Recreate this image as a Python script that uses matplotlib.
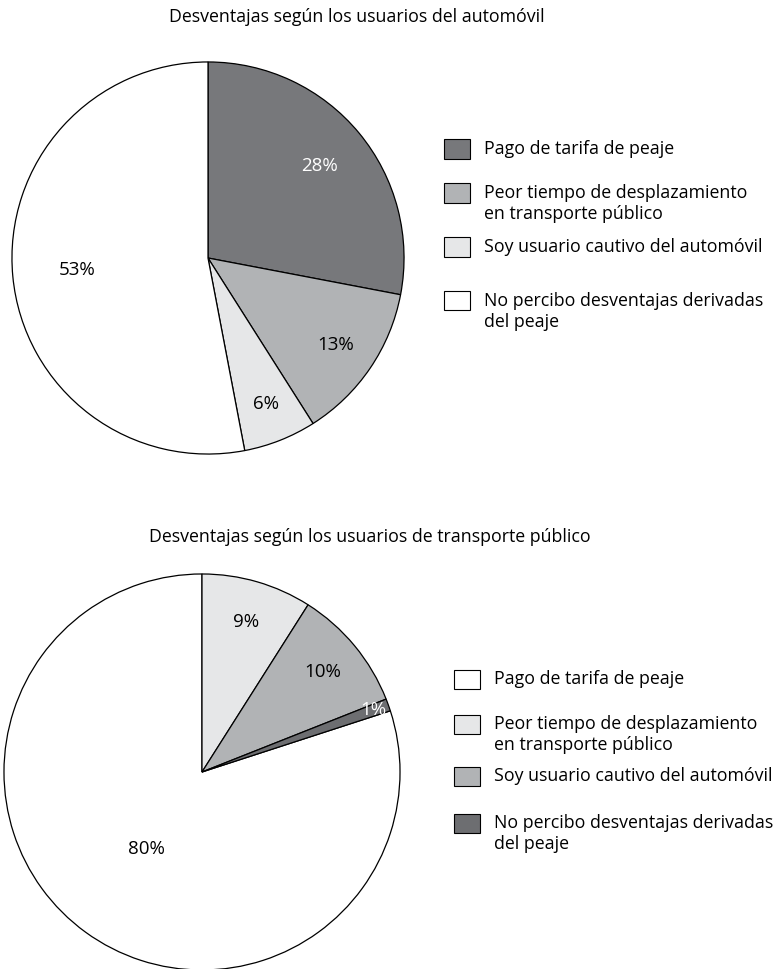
import matplotlib
matplotlib.use("Agg")
import matplotlib.pyplot as plt
from matplotlib.patches import Rectangle
import numpy as np

plt.rcParams['font.family'] = ['Open Sans', 'DejaVu Sans']

categorias = ["Pago de tarifa de peaje",
              "Peor tiempo de desplazamiento\nen transporte público",
              "Soy usuario cautivo del automóvil",
              "No percibo desventajas derivadas\ndel peaje"]

# usuarios del automovil
auto_valores = [28, 13, 6, 53]
auto_colores = ["#77787b", "#b1b3b5", "#e6e7e8", "#ffffff"]
auto_txt = ["white", "black", "black", "black"]
auto_rad = [0.74, 0.79, 0.80, 0.67]

# usuarios de transporte publico
tp_valores = [80, 9, 10, 1]
tp_colores = ["#ffffff", "#e6e7e8", "#b1b3b5", "#6d6e71"]
tp_txt = ["black", "black", "black", "white"]
tp_rad = [0.48, 0.79, 0.79, 0.92]

W, H = 782, 969
fig = plt.figure(figsize=(W / 100, H / 100), dpi=100)


def leyenda(lx, ys, colores):
    # cajas de 26x19 px, texto alineado con la primera linea
    for y, c, lab in zip(ys, colores, categorias):
        fig.add_artist(Rectangle((lx / W, 1 - (y + 9.5) / H), 26 / W, 19 / H,
                                 facecolor=c, edgecolor="black", linewidth=0.8,
                                 transform=fig.transFigure))
        for i, linea in enumerate(lab.split("\n")):
            fig.text((lx + 40) / W, 1 - (y + 21 * i) / H, linea, ha="left",
                     va="center", fontsize=12.8)


def pastel(cx, cy, r, valores, colores, txtcol, radios, inicio, titulo, tx, ty):
    ax = fig.add_axes([(cx - r) / W, 1 - (cy + r) / H, 2 * r / W, 2 * r / H])
    wedges, _ = ax.pie(valores, colors=colores, startangle=inicio, counterclock=False,
                       wedgeprops=dict(edgecolor="black", linewidth=0.9))
    for w, v, c, rr in zip(wedges, valores, txtcol, radios):
        ang = np.deg2rad((w.theta1 + w.theta2) / 2)
        ax.text(rr * np.cos(ang), rr * np.sin(ang), "%d%%" % v, ha="center", va="center",
                fontsize=13.5, color=c)
    ax.set_xlim(-1.01, 1.01)
    ax.set_ylim(-1.01, 1.01)
    ax.set_aspect("auto")
    ax.axis("off")
    fig.text(tx / W, 1 - ty / H, titulo, ha="center", va="center", fontsize=12.8)


pastel(208, 258, 198, auto_valores, auto_colores, auto_txt, auto_rad, 90,
       "Desventajas según los usuarios del automóvil", 357, 17)
leyenda(444, [149, 193, 247, 301], auto_colores)

pastel(202, 772, 200, tp_valores, tp_colores, tp_txt, tp_rad, 18,
       "Desventajas según los usuarios de transporte público", 370, 537)
leyenda(454, [679, 724, 776, 823], tp_colores)

fig.savefig("out.png", dpi=100)
